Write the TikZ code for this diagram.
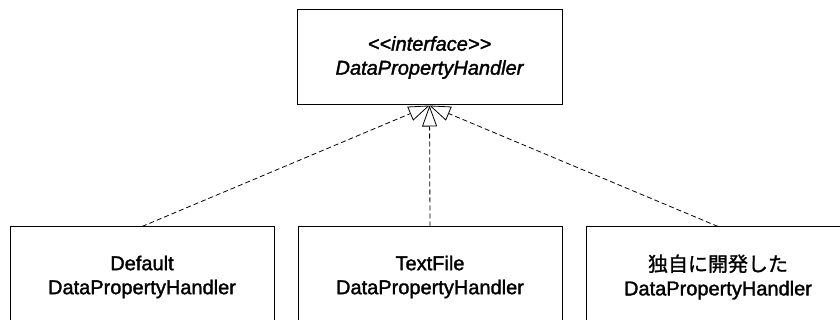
\documentclass[tikz,border=0pt]{standalone}
\usepackage{fontspec}
\setmainfont{Liberation Sans}[UprightFeatures={FakeBold=1.6},ItalicFeatures={FakeBold=1.6}]
\newfontfamily\jpfont{Noto Sans CJK JP}[UprightFeatures={FakeBold=1.2}]
\usetikzlibrary{arrows.meta}

\begin{document}
\begin{tikzpicture}[x=1pt,y=-1pt,every node/.style={align=center,font=\fontsize{20}{24}\selectfont},
  cls/.style={draw,line width=1pt,minimum width=264pt,minimum height=100pt},
  impl/.style={line width=0.8pt,dash pattern=on 5pt off 3pt,-{Triangle[open,length=21pt,width=15pt]}}]
\clip (0,0) rectangle (840,320);
\node[cls,minimum width=265pt,minimum height=95pt,font=\fontsize{20}{24}\selectfont\itshape] (iface) at (429.5,57.5)
  {\textless\kern0pt\textless\kern0pt interface\kern0pt\textgreater\kern0pt\textgreater\\DataPropertyHandler};
\node[cls] (dflt) at (142,277) {Default\\DataPropertyHandler};
\node[cls] (txt) at (430,277) {TextFile\\DataPropertyHandler};
\node[cls] (own) at (718,277) {{\jpfont 独自に開発した}\\DataPropertyHandler};
\draw[impl] (dflt.north)--(iface.south);
\draw[impl] (txt.north)--(iface.south);
\draw[impl] (own.north)--(iface.south);
\end{tikzpicture}
\end{document}
